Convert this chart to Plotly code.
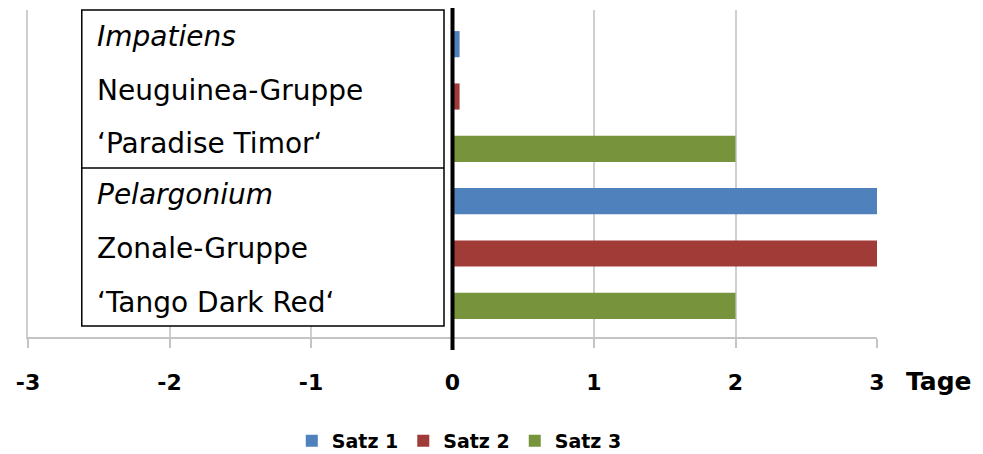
import plotly.graph_objects as go

# Taxa (row groups) and days per planting set
groups = ["Impatiens", "Pelargonium"]
satz1 = [0.05, 3]
satz2 = [0.05, 3]
satz3 = [2, 2]
series_names = ["Satz 1", "Satz 2", "Satz 3"]
series_colors = ["#4F81BD", "#A03B38", "#77933C"]
x_ticks = [-3, -2, -1, 0, 1, 2, 3]

# Text block shown inside the framed label box (italic genus, then group, then cultivar)
label_lines = [
    ("<i>Impatiens</i>", 36),
    ("Neuguinea-Gruppe", 90),
    ("\u2018Paradise Timor\u2018", 143),
    ("<i>Pelargonium</i>", 194),
    ("Zonale-Gruppe", 248),
    ("\u2018Tango Dark Red\u2018", 302),
]

W, H = 983, 454
M_L, M_R, M_T, M_B = 28, 106, 10, 117
PLOT_H = H - M_T - M_B
GRID = "#CFCFCF"


def py(pix):
    """Pixel row in the page -> paper y coordinate."""
    return (H - M_B - pix) / PLOT_H


fig = go.Figure()
for name, vals, col in zip(series_names, [satz1, satz2, satz3], series_colors):
    fig.add_trace(go.Bar(
        y=groups, x=vals, name=name, orientation="h",
        marker=dict(color=col, line=dict(width=0)),
    ))

shapes = [
    # framed label box with divider between the two taxa
    dict(type="rect", xref="x", yref="paper", x0=-2.62, x1=-0.06,
         y0=py(326), y1=py(10), line=dict(color="black", width=1.5),
         fillcolor="white", layer="above"),
    dict(type="line", xref="x", yref="paper", x0=-2.62, x1=-0.06,
         y0=py(168), y1=py(168), line=dict(color="black", width=1.5), layer="above"),
    # heavy zero axis
    dict(type="line", xref="x", yref="paper", x0=0, x1=0,
         y0=py(350), y1=py(8), line=dict(color="black", width=4), layer="above"),
]

annotations = []
for txt, pix in label_lines:
    annotations.append(dict(
        text=txt, xref="x", yref="paper", x=-2.53, y=py(pix),
        xanchor="left", yanchor="middle", showarrow=False,
        font=dict(family="DejaVu Sans", size=28, color="black"),
    ))
annotations.append(dict(
    text="<b>Tage</b>", xref="paper", yref="paper", x=1.0, xshift=27, y=py(381),
    xanchor="left", yanchor="middle", showarrow=False,
    font=dict(family="DejaVu Sans", size=25, color="black"),
))

fig.update_layout(
    template="none",
    width=W, height=H,
    margin=dict(l=M_L, r=M_R, t=M_T, b=M_B, pad=0, autoexpand=False),
    paper_bgcolor="white", plot_bgcolor="white",
    barmode="group", bargap=0.0, bargroupgap=0.5,
    shapes=shapes, annotations=annotations,
    showlegend=True,
    legend=dict(
        orientation="h", x=0.508, xanchor="center",
        yref="container", y=(H - 441) / H, yanchor="middle",
        traceorder="normal",
        font=dict(family="DejaVu Sans", size=19, color="black", weight="bold"),
        itemwidth=30,
        bgcolor="rgba(0,0,0,0)",
    ),
    xaxis=dict(
        range=[-3, 3], tickvals=x_ticks, ticktext=[str(t) for t in x_ticks],
        showgrid=True, gridcolor=GRID, gridwidth=2,
        zeroline=False, showline=True, linecolor="#C4C4C4", linewidth=2,
        ticks="outside", ticklen=9, tickwidth=2, tickcolor="#C4C4C4",
        tickfont=dict(family="DejaVu Sans", size=22, color="black", weight="bold"),
        ticklabelstandoff=16, automargin=False,
    ),
    yaxis=dict(
        type="category", categoryorder="array", categoryarray=groups,
        range=[1.532, -0.551], showticklabels=False, showgrid=False,
        zeroline=False, showline=True, linecolor=GRID, linewidth=2,
        ticks="", automargin=False,
    ),
)

fig.write_html("out.html")
